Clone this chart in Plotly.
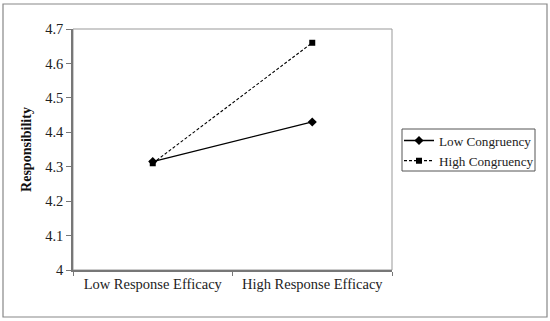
import plotly.graph_objects as go

categories = ["Low Response Efficacy", "High Response Efficacy"]
low_congruency = [4.315, 4.43]
high_congruency = [4.31, 4.66]
y_ticks = [4, 4.1, 4.2, 4.3, 4.4, 4.5, 4.6, 4.7]
y_tick_labels = ["4", "4.1", "4.2", "4.3", "4.4", "4.5", "4.6", "4.7"]

font = "Liberation Serif"

fig = go.Figure()
fig.add_trace(go.Scatter(
    x=[0, 1], y=low_congruency, name="Low Congruency", mode="lines+markers",
    line=dict(color="black", width=1.3, dash="solid"),
    marker=dict(symbol="diamond", size=7, color="black"),
))
fig.add_trace(go.Scatter(
    x=[0, 1], y=high_congruency, name="High Congruency", mode="lines+markers",
    line=dict(color="black", width=1.1, dash="3px,2px"),
    marker=dict(symbol="square", size=6, color="black"),
))

fig.update_layout(
    width=550, height=321,
    margin=dict(l=73, r=158, t=29, b=51, autoexpand=False),
    paper_bgcolor="white", plot_bgcolor="white",
    font=dict(family=font, size=14.5, color="#222"),
    showlegend=True,
    legend=dict(
        x=(399-73)/319, y=0.60, xanchor="left", yanchor="top",
        borderwidth=0, bgcolor="rgba(0,0,0,0)",
        font=dict(family=font, size=13.2, color="#222"),
        tracegroupgap=0, itemwidth=30,
    ),
    xaxis=dict(
        range=[-0.5, 1.5], tickvals=[0, 1], ticktext=categories,
        showgrid=False, zeroline=False, automargin=False,
        showline=True, linecolor="#777", linewidth=1.5,
        ticks="", ticklen=0, tickfont=dict(family=font, size=14.5, color="#222"),
        minor=dict(tickvals=[-0.5, 0.5, 1.5], ticks="outside", ticklen=4, tickcolor="#777"),
    ),
    yaxis=dict(
        range=[4, 4.7], tickvals=y_ticks, ticktext=y_tick_labels,
        showgrid=False, zeroline=False, automargin=False,
        showline=True, linecolor="#777", linewidth=1.5,
        ticks="outside", ticklen=5, tickcolor="#777",
        tickfont=dict(family=font, size=14.5, color="#222"),
        title=dict(text="<b>Responsibility</b>", font=dict(family=font, size=14, color="#111"), standoff=10),
    ),
    shapes=[
        dict(type="rect", xref="paper", yref="paper", x0=0, x1=1, y0=0, y1=1,
             line=dict(color="#999", width=1), layer="below"),
        dict(type="rect", xref="paper", yref="paper",
             x0=-70/319, x1=1+155/319, y0=-47/241, y1=1+25/241,
             line=dict(color="#888", width=1.2)),
        dict(type="rect", xref="paper", yref="paper",
             x0=(402-73)/319, x1=(535-73)/319, y0=(270-171)/241, y1=(270-129)/241,
             line=dict(color="#555", width=1)),
    ],
)

fig.write_html("out.html", post_script="document.body.style.margin='0';",
               config={"displayModeBar": False})
